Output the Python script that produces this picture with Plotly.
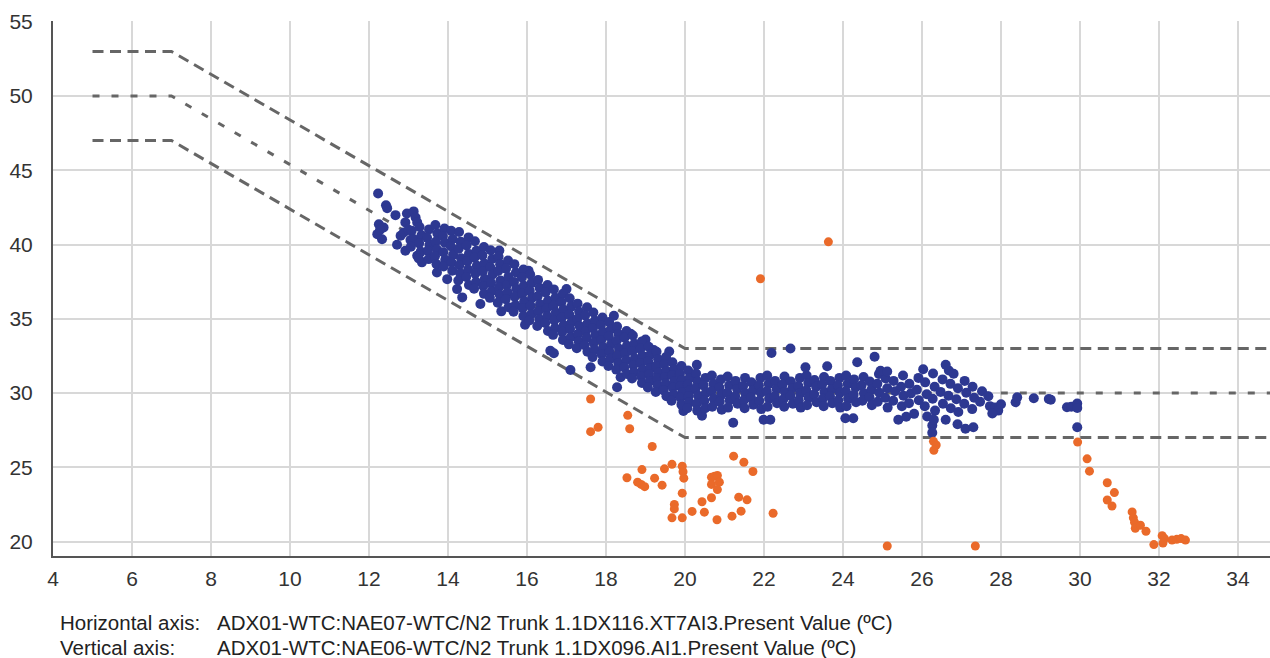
import plotly.graph_objects as go

# ---------------- data ----------------
band_x = [5, 7, 20, 35]
band_upper_y = [53, 53, 33, 33]
band_mid_y = [50, 50, 30, 30]
band_lower_y = [47, 47, 27, 27]

x_ticks = [4, 6, 8, 10, 12, 14, 16, 18, 20, 22, 24, 26, 28, 30, 32, 34]
y_ticks = [20, 25, 30, 35, 40, 45, 50, 55]

blue_sparse = [
    (12.23, 43.44), (12.43, 42.65), (12.46, 42.45), (12.67, 41.98), (12.96, 42.09), (13.13, 42.23),
    (13.18, 41.82), (13.22, 41.49), (12.92, 41.49), (12.25, 41.37), (12.37, 41.15), (12.21, 40.70),
    (12.33, 40.36), (12.28, 41.00), (12.71, 39.98), (12.80, 40.59), (12.88, 40.81), (12.92, 39.58),
    (13.05, 40.30), (13.00, 41.00), (13.22, 39.24), (13.34, 38.80), (13.72, 38.12), (13.98, 37.67),
    (14.23, 37.00), (14.36, 36.44), (14.82, 36.00), (15.35, 35.50), (15.95, 34.60),
    (16.59, 32.85), (16.68, 32.68), (17.10, 31.55), (17.61, 31.74), (18.28, 30.39), (18.37, 31.06),
    (15.30, 39.60), (16.04, 38.24), (17.00, 37.00), (18.20, 35.20), (18.62, 34.00), (19.00, 33.60),
    (19.21, 32.90), (19.60, 32.80), (20.30, 31.90), (20.43, 28.48), (19.96, 28.80),
]

blue_slope = [
    (13.08, 40.92), (13.12, 40.38), (13.06, 39.85),
    (13.28, 41.18), (13.33, 40.62), (13.27, 40.08), (13.31, 39.52), (13.26, 39.06),
    (13.52, 41.02), (13.47, 40.46), (13.53, 39.97), (13.49, 39.58), (13.51, 39.02),
    (13.68, 41.31), (13.73, 40.74), (13.69, 40.18), (13.72, 39.66), (13.67, 39.21), (13.71, 38.68),
    (13.91, 41.08), (13.87, 40.57), (13.92, 40.12), (13.88, 39.48), (13.93, 38.97), (13.89, 38.52),
    (14.08, 40.93), (14.12, 40.37), (14.07, 39.88), (14.13, 39.31), (14.09, 38.79), (14.11, 38.24),
    (14.28, 40.84), (14.32, 40.18), (14.27, 39.72), (14.33, 39.08), (14.29, 38.62), (14.31, 38.07), (14.26, 37.58),
    (14.52, 40.48), (14.47, 39.94), (14.53, 39.37), (14.49, 38.88), (14.51, 38.32), (14.46, 37.81), (14.53, 37.28),
    (14.68, 40.22), (14.72, 39.58), (14.67, 39.12), (14.73, 38.57), (14.69, 38.03), (14.71, 37.48), (14.66, 37.02),
    (14.91, 39.83), (14.87, 39.27), (14.92, 38.72), (14.88, 38.18), (14.93, 37.68), (14.89, 37.21), (14.91, 36.68),
    (15.08, 39.62), (15.12, 39.03), (15.07, 38.47), (15.13, 37.98), (15.09, 37.43), (15.11, 36.88), (15.06, 36.41),
    (15.28, 39.18), (15.32, 38.68), (15.27, 38.22), (15.33, 37.58), (15.29, 37.12), (15.31, 36.62), (15.26, 36.08),
    (15.52, 38.92), (15.47, 38.38), (15.53, 37.82), (15.49, 37.28), (15.51, 36.78), (15.46, 36.32), (15.53, 35.78),
    (15.68, 38.68), (15.72, 38.12), (15.67, 37.48), (15.73, 37.02), (15.69, 36.48), (15.71, 35.92), (15.66, 35.48),
    (15.91, 38.32), (15.87, 37.78), (15.92, 37.22), (15.88, 36.68), (15.93, 36.18), (15.89, 35.72), (15.91, 35.18),
    (16.08, 37.98), (16.12, 37.42), (16.07, 36.88), (16.13, 36.42), (16.09, 35.88), (16.11, 35.32), (16.06, 34.88),
    (16.28, 37.62), (16.32, 37.08), (16.27, 36.52), (16.33, 35.98), (16.29, 35.52), (16.31, 34.98), (16.26, 34.52),
    (16.52, 37.28), (16.47, 36.78), (16.53, 36.22), (16.49, 35.68), (16.51, 35.18), (16.46, 34.72), (16.53, 34.18),
    (16.68, 36.98), (16.72, 36.42), (16.67, 35.88), (16.73, 35.42), (16.69, 34.88), (16.71, 34.38), (16.66, 33.92),
    (16.91, 36.68), (16.87, 36.12), (16.92, 35.62), (16.88, 35.08), (16.93, 34.58), (16.89, 34.12), (16.91, 33.58),
    (17.08, 36.38), (17.12, 35.82), (17.07, 35.28), (17.13, 34.78), (17.09, 34.32), (17.11, 33.78), (17.06, 33.28),
    (17.28, 36.02), (17.32, 35.48), (17.27, 34.98), (17.33, 34.52), (17.29, 33.98), (17.31, 33.48), (17.26, 33.02),
    (17.52, 35.78), (17.47, 35.22), (17.53, 34.68), (17.49, 34.18), (17.51, 33.72), (17.46, 33.22), (17.53, 32.78),
    (17.68, 35.42), (17.72, 34.88), (17.67, 34.38), (17.73, 33.92), (17.69, 33.38), (17.71, 32.92), (17.66, 32.42),
    (17.91, 35.08), (17.87, 34.58), (17.92, 34.12), (17.88, 33.58), (17.93, 33.08), (17.89, 32.62), (17.91, 32.12),
    (18.08, 34.78), (18.12, 34.28), (18.07, 33.82), (18.13, 33.28), (18.09, 32.78), (18.11, 32.32), (18.06, 31.82),
    (18.28, 34.48), (18.32, 33.98), (18.27, 33.52), (18.33, 32.98), (18.29, 32.52), (18.31, 32.02), (18.26, 31.58),
    (18.52, 34.18), (18.47, 33.72), (18.53, 33.18), (18.49, 32.68), (18.51, 32.22), (18.46, 31.72), (18.53, 31.28),
    (18.68, 33.88), (18.72, 33.32), (18.67, 32.82), (18.73, 32.32), (18.69, 31.88), (18.71, 31.42), (18.66, 30.98),
    (18.91, 33.48), (18.87, 32.98), (18.92, 32.52), (18.88, 32.02), (18.93, 31.58), (18.89, 31.12), (18.91, 30.68),
    (19.08, 33.12), (19.12, 32.58), (19.07, 32.12), (19.13, 31.68), (19.09, 31.28), (19.11, 30.82), (19.06, 30.38),
    (19.28, 32.78), (19.32, 32.28), (19.27, 31.82), (19.33, 31.38), (19.29, 30.98), (19.31, 30.52), (19.26, 30.08),
    (19.52, 32.42), (19.47, 31.92), (19.53, 31.48), (19.49, 31.08), (19.51, 30.62), (19.46, 30.18), (19.53, 29.78),
    (19.68, 32.08), (19.72, 31.62), (19.67, 31.18), (19.73, 30.78), (19.69, 30.38), (19.71, 29.92), (19.66, 29.48),
    (19.91, 31.82), (19.87, 31.28), (19.92, 30.88), (19.88, 30.48), (19.93, 30.08), (19.89, 29.68), (19.91, 29.22),
    (20.08, 31.52), (20.12, 31.02), (20.07, 30.58), (20.13, 30.18), (20.09, 29.78), (20.11, 29.38), (20.06, 28.98),
]

blue_flat = [
    (20.28, 31.32), (20.32, 30.78), (20.27, 30.32), (20.33, 29.82), (20.29, 29.28), (20.31, 28.82),
    (20.52, 31.02), (20.47, 30.52), (20.53, 30.02), (20.49, 29.48), (20.51, 28.98),
    (20.68, 31.18), (20.72, 30.62), (20.67, 30.12), (20.73, 29.62), (20.69, 29.08),
    (20.91, 30.92), (20.87, 30.38), (20.92, 29.88), (20.88, 29.42), (20.93, 28.88),
    (21.08, 31.12), (21.12, 30.52), (21.07, 30.02), (21.13, 29.52), (21.09, 29.02),
    (21.28, 30.82), (21.32, 30.28), (21.27, 29.78), (21.33, 29.28),
    (21.52, 31.02), (21.47, 30.48), (21.53, 29.98), (21.49, 29.52), (21.51, 28.98),
    (21.68, 30.72), (21.72, 30.18), (21.67, 29.68), (21.73, 29.22),
    (21.91, 31.02), (21.87, 30.52), (21.92, 30.02), (21.88, 29.48), (21.93, 28.92),
    (22.08, 31.18), (22.12, 30.62), (22.07, 30.12), (22.13, 29.62), (22.09, 29.08),
    (22.28, 30.82), (22.32, 30.28), (22.27, 29.78), (22.33, 29.32),
    (22.52, 31.12), (22.47, 30.58), (22.53, 30.08), (22.49, 29.58), (22.51, 29.08),
    (22.68, 30.78), (22.72, 30.32), (22.67, 29.82), (22.73, 29.28),
    (22.91, 31.02), (22.87, 30.48), (22.92, 29.98), (22.88, 29.52), (22.93, 29.02),
    (23.08, 31.18), (23.12, 30.68), (23.07, 30.18), (23.13, 29.68), (23.09, 29.18),
    (23.28, 30.88), (23.32, 30.42), (23.27, 29.92), (23.33, 29.38),
    (23.52, 31.08), (23.47, 30.58), (23.53, 30.08), (23.49, 29.62), (23.51, 29.12),
    (23.68, 30.82), (23.72, 30.28), (23.67, 29.78), (23.73, 29.32),
    (23.91, 31.02), (23.87, 30.52), (23.92, 30.02), (23.88, 29.52), (23.93, 29.02),
    (24.08, 31.18), (24.12, 30.62), (24.07, 30.12), (24.13, 29.62), (24.09, 29.12),
    (24.28, 30.92), (24.32, 30.38), (24.27, 29.88), (24.33, 29.38),
    (24.52, 31.08), (24.47, 30.52), (24.53, 29.98), (24.49, 29.48),
    (24.68, 30.78), (24.72, 30.22), (24.67, 29.72), (24.73, 29.18),
    (24.91, 31.28), (24.87, 30.62), (24.92, 30.02), (24.88, 29.42),
    (25.08, 30.98), (25.12, 30.32), (25.07, 29.68), (25.13, 29.02),
    (25.28, 30.82), (25.32, 30.12), (25.27, 29.48),
    (25.52, 31.18), (25.47, 30.42), (25.53, 29.82), (25.49, 29.12),
    (25.68, 30.62), (25.72, 29.98), (25.67, 29.32),
    (25.91, 31.02), (25.87, 30.22), (25.92, 29.52),
    (26.08, 30.72), (26.12, 29.92), (26.07, 29.12), (26.13, 28.42),
    (26.28, 31.32), (26.32, 30.42), (26.27, 29.62), (26.33, 28.82), (26.26, 27.82), (26.26, 27.33),
    (26.52, 30.92), (26.47, 30.08), (26.53, 29.28),
    (26.68, 31.52), (26.72, 30.62), (26.67, 29.82), (26.73, 28.98),
    (26.91, 30.32), (26.87, 29.58), (26.92, 28.72),
    (27.08, 30.82), (27.12, 30.02), (27.07, 29.28),
    (27.28, 30.42), (27.32, 29.68), (27.27, 28.92),
    (27.52, 30.12), (27.47, 29.42),
    (27.68, 29.78), (27.72, 29.12),
    (22.19, 32.70), (22.67, 33.00), (23.05, 31.73), (23.60, 31.80), (24.36, 32.07), (24.80, 32.45),
    (24.95, 31.50), (25.12, 31.45), (26.03, 31.60), (26.60, 31.90), (26.80, 31.30),
    (21.22, 28.00), (21.99, 28.20), (22.16, 28.20), (24.06, 28.30), (24.26, 28.30),
    (25.40, 28.20), (25.60, 28.40), (25.80, 28.60), (26.30, 28.20), (26.60, 28.20),
    (26.90, 27.90), (27.10, 27.60), (27.30, 27.70),
]

blue_tail = [
    (27.85, 29.02), (27.93, 28.82), (27.78, 28.62), (28.00, 29.25), (28.37, 29.38), (28.41, 29.71),
    (28.83, 29.65), (29.21, 29.60), (29.26, 29.55), (29.67, 29.05), (29.78, 29.08), (29.93, 29.30),
    (29.93, 29.00), (29.93, 27.70),
]

orange_points = [
    (17.61, 29.60), (17.61, 27.40), (17.80, 27.70), (18.55, 28.50), (18.60, 27.60), (19.17, 26.40),
    (18.53, 24.30), (18.91, 24.85), (18.80, 24.00), (18.89, 23.85), (18.98, 23.70), (19.23, 24.27),
    (19.42, 23.80), (19.48, 24.90), (19.67, 25.20), (19.93, 25.07), (19.95, 24.70), (19.97, 24.27),
    (19.93, 23.26), (19.73, 22.50), (19.73, 22.20), (19.67, 21.60), (19.93, 21.60), (20.18, 22.03),
    (20.43, 22.68), (20.49, 21.98), (20.67, 24.34), (20.75, 24.40), (20.82, 24.45), (20.87, 24.00),
    (20.67, 23.85), (20.82, 23.50), (20.67, 22.95), (20.81, 21.47), (21.19, 21.71), (21.42, 22.05),
    (21.36, 22.99), (21.57, 22.81), (21.23, 25.75), (21.49, 25.34), (21.72, 24.72), (22.23, 21.91),
    (25.12, 19.70), (27.35, 19.70), (21.91, 37.70), (23.63, 40.18),
    (26.29, 26.75), (26.36, 26.50), (26.30, 26.15),
    (29.94, 26.70), (30.18, 25.57), (30.24, 24.74), (30.69, 23.96), (30.87, 23.30), (30.69, 22.80),
    (30.81, 22.40), (31.32, 22.00), (31.35, 21.60), (31.38, 21.30), (31.40, 20.90), (31.53, 21.10),
    (31.67, 20.70), (31.87, 19.80), (32.08, 20.40), (32.14, 20.20), (32.10, 19.90), (32.33, 20.10),
    (32.45, 20.15), (32.56, 20.20), (32.67, 20.10),
]

axis_note_labels = ["Horizontal axis:", "Vertical axis:"]
axis_note_values = [
    "ADX01-WTC:NAE07-WTC/N2 Trunk 1.1DX116.XT7AI3.Present Value (\u00baC)",
    "ADX01-WTC:NAE06-WTC/N2 Trunk 1.1DX096.AI1.Present Value (\u00baC)",
]

# ---------------- figure ----------------
BLUE = "#2d3891"
ORANGE = "#ea6a2a"
LINE = "#666666"

fig = go.Figure()

for ys, dash in [(band_upper_y, "11px,6.5px"), (band_mid_y, "7px,12px"), (band_lower_y, "11px,6.5px")]:
    fig.add_trace(go.Scatter(
        x=band_x, y=ys, mode="lines",
        line=dict(color=LINE, width=3, dash=dash),
        hoverinfo="skip", showlegend=False,
    ))

blue_all = blue_sparse + blue_slope + blue_flat + blue_tail
fig.add_trace(go.Scatter(
    x=[p[0] for p in blue_all], y=[p[1] for p in blue_all], mode="markers",
    marker=dict(color=BLUE, size=10, line=dict(width=0)),
    showlegend=False,
))
fig.add_trace(go.Scatter(
    x=[p[0] for p in orange_points], y=[p[1] for p in orange_points], mode="markers",
    marker=dict(color=ORANGE, size=9, line=dict(width=0)),
    showlegend=False,
))

FONT = "Liberation Sans, Arial, sans-serif"

fig.update_layout(
    width=1270, height=658,
    margin=dict(l=53, r=0, t=21, b=102, autoexpand=False),
    paper_bgcolor="white", plot_bgcolor="white",
    font=dict(family=FONT, size=20, color="#333333"),
    showlegend=False,
    xaxis=dict(
        range=[4, 34.81], tickmode="array", tickvals=x_ticks,
        ticktext=[str(v) for v in x_ticks],
        showgrid=True, gridcolor="#d8d8d8", gridwidth=2,
        showline=True, linecolor="#555555", linewidth=2,
        zeroline=False, ticks="", ticklabelstandoff=3,
        tickfont=dict(family=FONT, size=21, color="#333333"),
    ),
    yaxis=dict(
        range=[19.03, 55.05], tickmode="array", tickvals=y_ticks,
        ticktext=[str(v) for v in y_ticks],
        showgrid=True, gridcolor="#d8d8d8", gridwidth=2,
        showline=True, linecolor="#555555", linewidth=2,
        zeroline=False, ticks="", ticklabelstandoff=14,
        tickfont=dict(family=FONT, size=21, color="#333333"),
    ),
)

note_y = [-0.1252, -0.1701]
for lab, val, yy in zip(axis_note_labels, axis_note_values, note_y):
    fig.add_annotation(x=0.0041, y=yy, xref="paper", yref="paper", text=lab,
                       showarrow=False, xanchor="left", yanchor="middle",
                       font=dict(family=FONT, size=20.5, color="#222222"))
    fig.add_annotation(x=0.1331, y=yy, xref="paper", yref="paper", text=val,
                       showarrow=False, xanchor="left", yanchor="middle",
                       font=dict(family=FONT, size=20.5, color="#222222"))

fig.write_html(
    "out.html",
    config={"displayModeBar": False},
    post_script="document.body.style.margin='0';document.body.style.overflow='hidden';",
)
